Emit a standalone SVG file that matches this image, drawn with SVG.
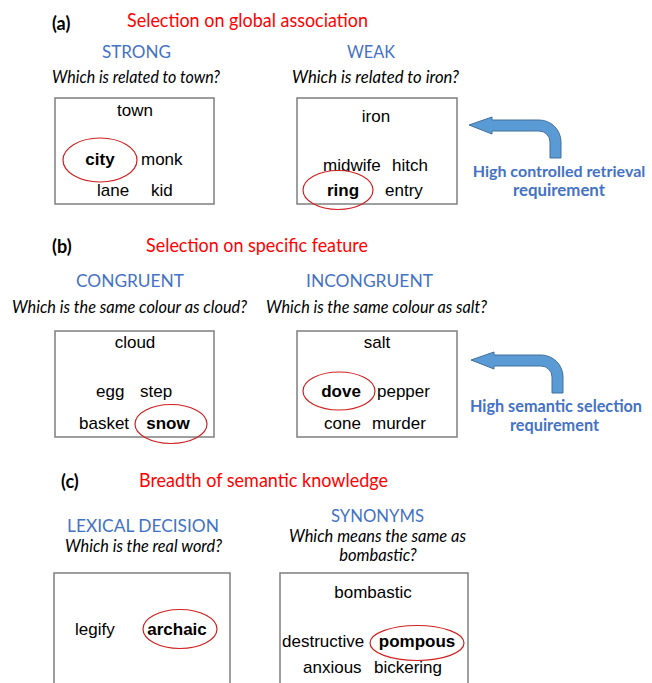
<svg xmlns="http://www.w3.org/2000/svg" width="652" height="683" viewBox="0 0 652 683">
<style>
.lab{font-family:Lato,"Open Sans",sans-serif;font-weight:bold;font-size:18px;fill:#000}
.head{font-family:Lato,"Open Sans",sans-serif;font-size:19px;fill:#ff0000}
.cond{font-family:Lato,"Open Sans",sans-serif;font-size:17px;fill:#4472c4}
.q{font-family:Lato,"Open Sans",sans-serif;font-style:italic;font-size:16.5px;fill:#000}
.w{font-family:"Liberation Sans",Arial,sans-serif;font-size:17px;fill:#000}
.b{font-weight:bold}
.box{fill:#fff;stroke:#7f7f7f;stroke-width:1.5}
.ring{fill:none;stroke:#d02020;stroke-width:1.2}
.req{font-family:Lato,"Open Sans",sans-serif;font-weight:bold;font-size:17px;fill:#4472c4}
.arr{fill:#5b9bd5;stroke:#41719c;stroke-width:1}
</style>
<defs>
<path id="bent" d="M469,125 L492,117 L492,120 L539,120 A22,22 0 0 1 561,142 L561,158 L550,158 L550,142 A11,11 0 0 0 539,131 L492,131 L492,134 Z"/>
</defs>
<rect width="652" height="683" fill="#fff"/>

<g id="sectionA">
<text class="lab" x="52" y="30">(a)</text>
<text class="head" x="127" y="27" textLength="241" lengthAdjust="spacingAndGlyphs">Selection on global association</text>
<text class="cond" x="102" y="58" textLength="69" lengthAdjust="spacingAndGlyphs">STRONG</text>
<text class="cond" x="347" y="58" textLength="48" lengthAdjust="spacingAndGlyphs">WEAK</text>
<text class="q" x="52" y="83" textLength="168" lengthAdjust="spacingAndGlyphs">Which is related to town?</text>
<text class="q" x="292" y="83" textLength="167" lengthAdjust="spacingAndGlyphs">Which is related to iron?</text>
</g>

<g id="boxStrong">
<rect class="box" x="55" y="98" width="159" height="106"/>
<text class="w" x="135" y="116" text-anchor="middle">town</text>
<text class="w b" x="100" y="165" text-anchor="middle">city</text>
<ellipse class="ring" cx="100" cy="160" rx="37" ry="22"/>
<text class="w" x="141" y="165">monk</text>
<text class="w" x="97" y="196">lane</text>
<text class="w" x="151" y="196">kid</text>
</g>

<g id="boxWeak">
<rect class="box" x="297" y="98" width="160" height="106"/>
<text class="w" x="376" y="122" text-anchor="middle">iron</text>
<text class="w" x="323" y="171">midwife</text>
<text class="w" x="392" y="171">hitch</text>
<text class="w b" x="343" y="196" text-anchor="middle">ring</text>
<ellipse class="ring" cx="338" cy="190" rx="35" ry="19.5"/>
<text class="w" x="385" y="196">entry</text>
</g>

<g id="arrowA">
<use href="#bent" class="arr"/>
<text class="req" x="559" y="177" text-anchor="middle" style="font-size:16px">High controlled retrieval</text>
<text class="req" x="559" y="196" text-anchor="middle" textLength="92" lengthAdjust="spacingAndGlyphs">requirement</text>
</g>

<g id="sectionB">
<text class="lab" x="52" y="253">(b)</text>
<text class="head" x="146" y="252" textLength="222" lengthAdjust="spacingAndGlyphs">Selection on specific feature</text>
<text class="cond" x="76" y="287" textLength="108" lengthAdjust="spacingAndGlyphs">CONGRUENT</text>
<text class="cond" x="306" y="287" textLength="127" lengthAdjust="spacingAndGlyphs">INCONGRUENT</text>
<text class="q" x="12" y="313" textLength="235" lengthAdjust="spacingAndGlyphs">Which is the same colour as cloud?</text>
<text class="q" x="266" y="313" textLength="221" lengthAdjust="spacingAndGlyphs">Which is the same colour as salt?</text>
</g>

<g id="boxCongruent">
<rect class="box" x="55" y="331" width="159" height="106"/>
<text class="w" x="135" y="348" text-anchor="middle">cloud</text>
<text class="w" x="96" y="397">egg</text>
<text class="w" x="140" y="397">step</text>
<text class="w" x="79" y="429">basket</text>
<text class="w b" x="168" y="429" text-anchor="middle">snow</text>
<ellipse class="ring" cx="171" cy="424" rx="36" ry="19.5"/>
</g>

<g id="boxIncongruent">
<rect class="box" x="297" y="331" width="160" height="106"/>
<text class="w" x="377" y="348" text-anchor="middle">salt</text>
<text class="w b" x="341" y="397" text-anchor="middle">dove</text>
<ellipse class="ring" cx="339" cy="391" rx="36" ry="19"/>
<text class="w" x="377" y="397">pepper</text>
<text class="w" x="324" y="429">cone</text>
<text class="w" x="372" y="429">murder</text>
</g>

<g id="arrowB">
<use href="#bent" class="arr" transform="translate(2,235)"/>
<text class="req" x="470" y="412" textLength="172" lengthAdjust="spacingAndGlyphs">High semantic selection</text>
<text class="req" x="510" y="431" textLength="89" lengthAdjust="spacingAndGlyphs">requirement</text>
</g>

<g id="sectionC">
<text class="lab" x="61" y="488">(c)</text>
<text class="head" x="139" y="487" textLength="249" lengthAdjust="spacingAndGlyphs">Breadth of semantic knowledge</text>
<text class="cond" x="331" y="522" textLength="93" lengthAdjust="spacingAndGlyphs">SYNONYMS</text>
<text class="cond" x="67" y="532" textLength="152" lengthAdjust="spacingAndGlyphs">LEXICAL DECISION</text>
<text class="q" x="65" y="552" textLength="157" lengthAdjust="spacingAndGlyphs">Which is the real word?</text>
<text class="q" x="289" y="542" textLength="177" lengthAdjust="spacingAndGlyphs">Which means the same as</text>
<text class="q" x="378" y="561" text-anchor="middle">bombastic?</text>
</g>

<g id="boxLexical">
<rect class="box" x="54" y="573" width="176" height="120"/>
<text class="w" x="75" y="635">legify</text>
<text class="w b" x="177" y="635" text-anchor="middle">archaic</text>
<ellipse class="ring" cx="180" cy="629" rx="37" ry="19.5"/>
</g>

<g id="boxSynonyms">
<rect class="box" x="280" y="573" width="188" height="120"/>
<text class="w" x="373" y="598" text-anchor="middle">bombastic</text>
<text class="w" x="282" y="647">destructive</text>
<text class="w b" x="417" y="647" text-anchor="middle">pompous</text>
<ellipse class="ring" cx="417" cy="643" rx="47" ry="17.5"/>
<text class="w" x="303" y="673">anxious</text>
<text class="w" x="374" y="673">bickering</text>
</g>
</svg>
